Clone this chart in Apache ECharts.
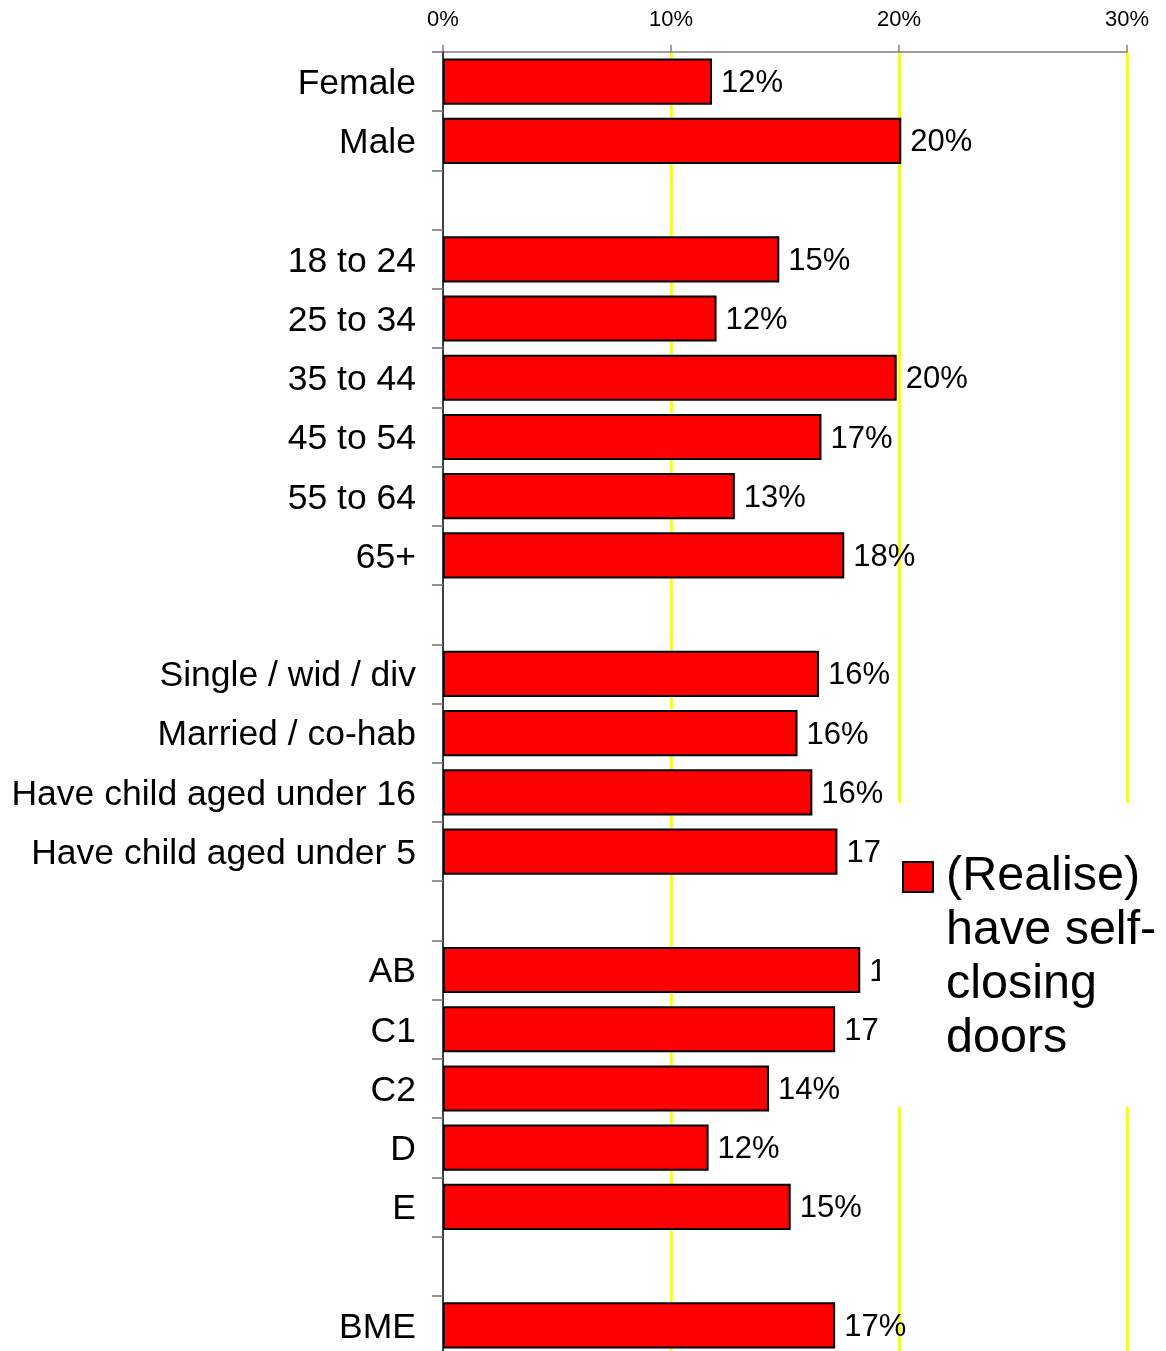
<!DOCTYPE html>
<html>
<head>
<meta charset="utf-8">
<title>(Realise) have self-closing doors</title>
<script src="https://cdn.jsdelivr.net/npm/echarts@6/dist/echarts.min.js"></script>
<style>
  html, body { margin: 0; padding: 0; background: #ffffff; }
  #chart { width: 1166px; height: 1351px; }
</style>
</head>
<body>
<div id="chart"></div>
<script>
// Demographic groups; empty entries are spacer rows between groups
const categories = [
  'Female', 'Male', '',
  '18 to 24', '25 to 34', '35 to 44', '45 to 54', '55 to 64', '65+', '',
  'Single / wid / div', 'Married / co-hab', 'Have child aged under 16', 'Have child aged under 5', '',
  'AB', 'C1', 'C2', 'D', 'E', '',
  'BME'
];

// Share (%) who realise they have self-closing doors
const realiseSelfClosing = [
  11.8, 20.1, null,
  14.75, 12.0, 19.9, 16.6, 12.8, 17.6, null,
  16.49, 15.55, 16.2, 17.3, null,
  18.3, 17.2, 14.3, 11.65, 15.25, null,
  17.2
];

const seriesName = '(Realise)\nhave self-\nclosing\ndoors';

// Percentage axis ticks
const axisMin = 0;
const axisMax = 30;
const axisStep = 10;

const FONT = '"Liberation Sans", Arial, sans-serif';

const chart = echarts.init(document.getElementById('chart'), null, { renderer: 'canvas' });

chart.setOption({
  backgroundColor: '#ffffff',
  animation: false,
  textStyle: { fontFamily: FONT },
  grid: {
    left: 443,
    top: 52,
    width: 684,
    height: 1303,
    containLabel: false,
    outerBoundsMode: 'none'
  },
  xAxis: {
    type: 'value',
    position: 'top',
    min: axisMin,
    max: axisMax,
    interval: axisStep,
    axisLine: { show: true, lineStyle: { color: '#808080', width: 1.5 } },
    axisTick: { show: true, length: 7, lineStyle: { color: '#808080', width: 1.5 } },
    axisLabel: {
      margin: 21,
      fontSize: 22,
      color: '#000000',
      fontFamily: FONT,
      formatter: v => v + '%'
    },
    splitLine: { show: true, showMinLine: false, lineStyle: { color: '#ffff00', width: 3 } }
  },
  yAxis: {
    type: 'category',
    inverse: true,
    data: categories,
    z: 5,
    axisLine: { show: true, lineStyle: { color: '#000000', width: 1.5 } },
    axisTick: { show: true, length: 11, alignWithLabel: false, interval: 0, lineStyle: { color: '#707070', width: 1.5 } },
    axisLabel: {
      interval: 0,
      margin: 27,
      color: '#000000',
      formatter: v => '{c|' + v + '}',
      rich: {
        c: { fontSize: 35.5, fontFamily: FONT, color: '#000000', padding: [5, 0, 0, 0] }
      }
    },
    splitLine: { show: false }
  },
  legend: {
    data: [seriesName],
    left: 902,
    top: 688,
    padding: 0,
    z: 20,
    icon: 'rect',
    itemWidth: 30,
    itemHeight: 30,
    selectedMode: false,
    // three leading blank lines put the first text line level with the swatch
    formatter: name => '\n\n\n' + name,
    textStyle: {
      fontSize: 48.5,
      lineHeight: 54,
      color: '#000000',
      fontFamily: FONT,
      padding: [0, 0, 0, 8]
    }
  },
  graphic: [
    {
      // white panel behind the legend
      type: 'rect',
      z: 10,
      silent: true,
      shape: { x: 880, y: 803, width: 290, height: 304 },
      style: { fill: '#ffffff' }
    }
  ],
  series: [
    {
      name: seriesName,
      type: 'bar',
      data: realiseSelfClosing,
      barCategoryGap: '22%',
      itemStyle: { color: '#ff0000', borderColor: '#000000', borderWidth: 2 },
      label: {
        show: true,
        position: 'right',
        distance: 9,
        formatter: p => '{v|' + Math.round(p.value) + '%}',
        rich: {
          v: { fontSize: 31, fontFamily: FONT, color: '#000000', padding: [4, 0, 0, 0] }
        }
      }
    }
  ]
});
</script>
</body>
</html>
